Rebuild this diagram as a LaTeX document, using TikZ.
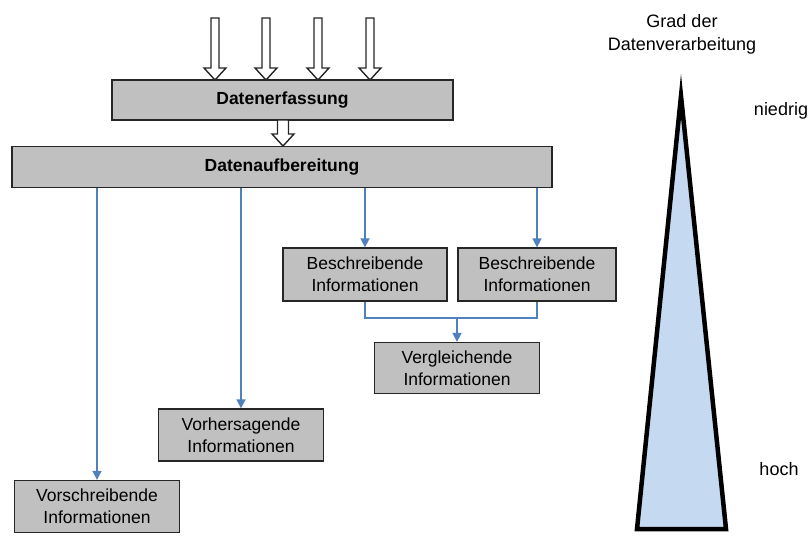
\documentclass[tikz,border=0pt]{standalone}
\usepackage{fontspec}
\setmainfont{Liberation Sans}
\usetikzlibrary{arrows.meta}
\definecolor{boxgray}{RGB}{192,192,192}
\definecolor{linkblue}{RGB}{79,129,189}
\definecolor{wedgeblue}{RGB}{197,217,241}
\tikzset{
  graybox/.style={draw=black!85, line width=1.3pt, fill=boxgray, inner sep=0pt,
    font=\fontsize{17.5}{22}\selectfont, align=center},
  titlebox/.style={graybox, font=\fontsize{17.5}{22}\selectfont\bfseries},
  link/.style={draw=linkblue, line width=1.6pt, -{Triangle[length=9pt,width=9pt]}},
  joint/.style={draw=linkblue, line width=1.6pt},
  hollow/.style={draw=black!85, line width=1.4pt, fill=white, line join=miter},
  plain/.style={font=\fontsize{18}{23}\selectfont, align=center, inner sep=0pt}
}
% hollow block arrow: #1 = x, #2 = top y, #3 = tip y, #4 = half shaft width
\newcommand{\blockarrow}[4]{%
  \draw[hollow] (#1-#4,#2) -- (#1+#4,#2) -- (#1+#4,#3-12) -- (#1+11,#3-12)
    -- (#1,#3) -- (#1-11,#3-12) -- (#1-#4,#3-12) -- cycle;}
\begin{document}
\begin{tikzpicture}[x=1pt,y=-1pt]
\useasboundingbox (0,0) rectangle (808,538);

% main processing boxes
\node[titlebox, minimum width=341, minimum height=40] (erf) at (282.5,100) {Datenerfassung};
\node[titlebox, minimum width=540, minimum height=41] (auf) at (282,167) {Datenaufbereitung};

% incoming data
\foreach \x in {215,266,318,370} {\blockarrow{\x}{18}{80}{4}}
\blockarrow{283}{120}{146}{5.5}

% information boxes
\node[graybox, minimum width=164, minimum height=53] (b1) at (365,274.5) {Beschreibende\\Informationen};
\node[graybox, minimum width=158, minimum height=53] (b2) at (537,274.5) {Beschreibende\\Informationen};
\node[graybox, minimum width=165, minimum height=51] (verg) at (457,368) {Vergleichende\\Informationen};
\node[graybox, minimum width=165, minimum height=52] (vorh) at (241,435) {Vorhersagende\\Informationen};
\node[graybox, minimum width=165, minimum height=52] (vors) at (97,506.5) {Vorschreibende\\Informationen};

% links from the preparation stage
\draw[link] (auf.south -| vors.north) -- (vors.north);
\draw[link] (auf.south -| vorh.north) -- (vorh.north);
\draw[link] (auf.south -| b1.north) -- (b1.north);
\draw[link] (auf.south -| b2.north) -- (b2.north);

% comparison of the descriptive information
\coordinate (ja) at (365,318);
\coordinate (jb) at (537,318);
\coordinate (jm) at (457,318);
\draw[joint] (b1.south) -- (ja) -- (jb) -- (b2.south);
\draw[link] (jm) -- (verg.north);

% degree of data processing
\coordinate (apex) at (681,96);
\coordinate (bl) at (637,529);
\coordinate (br) at (726,529);
\draw[fill=wedgeblue, draw=black, line width=4.5pt, line join=miter, miter limit=20] (apex) -- (br) -- (bl) -- cycle;
\node[plain] (grad) at (682,34) {Grad der\\Datenverarbeitung};
\node[plain] (low) at (781,111) {niedrig};
\node[plain] (high) at (779,469) {hoch};
\end{tikzpicture}
\end{document}
